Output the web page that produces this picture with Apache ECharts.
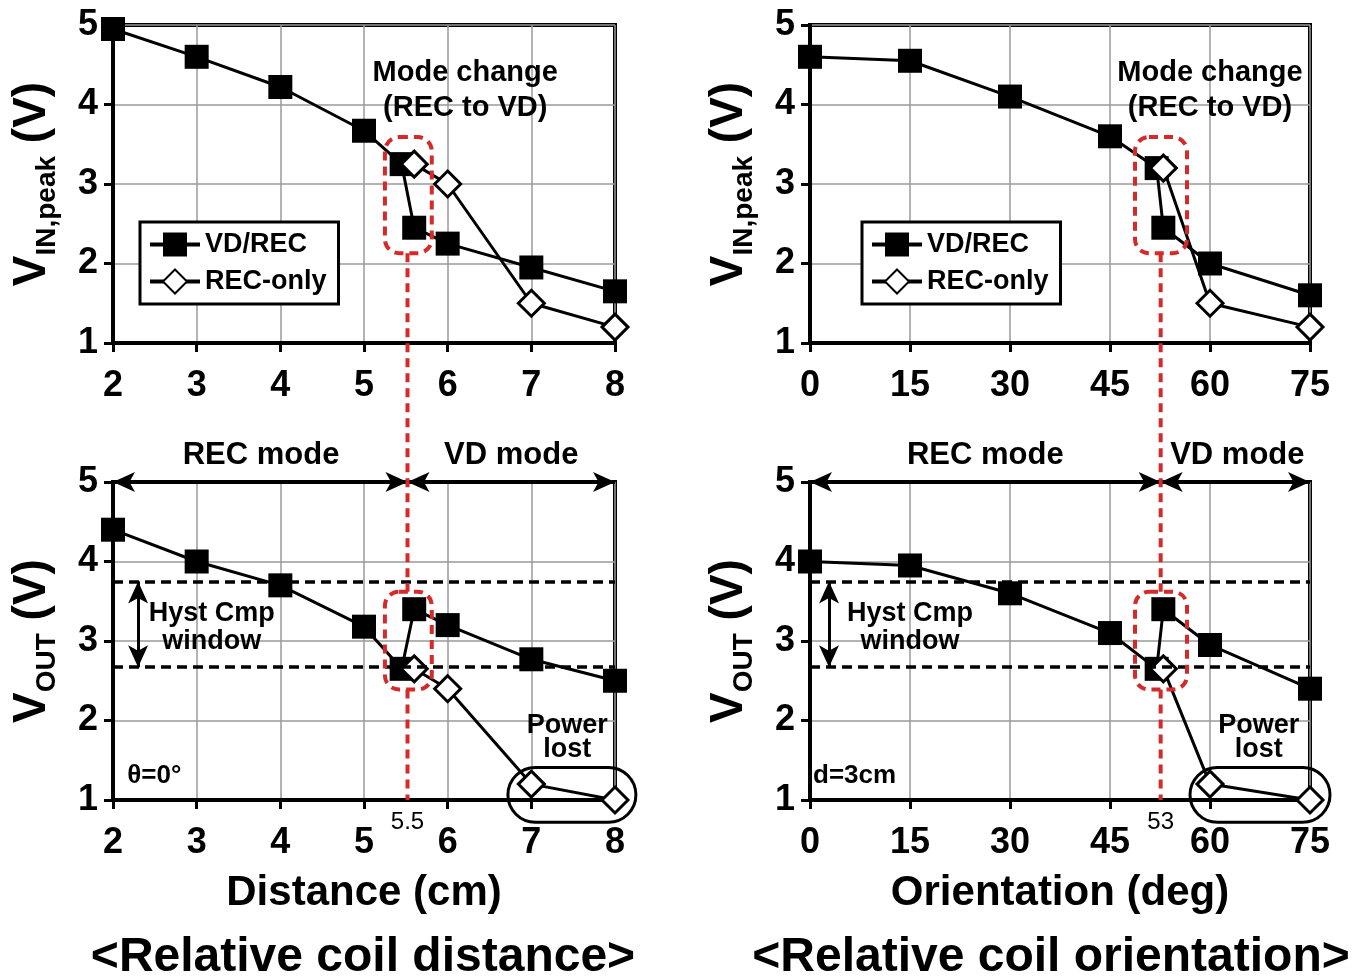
<!DOCTYPE html>
<html>
<head>
<meta charset="utf-8">
<script src="https://cdn.jsdelivr.net/npm/echarts@6/dist/echarts.min.js"></script>
<style>
  html, body { margin: 0; padding: 0; background: #fff; }
  #chart { width: 1358px; height: 979px; }
</style>
</head>
<body>
<div id="chart"></div>
<script>
// distance sweep (theta = 0 deg)
var distVdRecX = [2, 3, 4, 5, 5.45, 5.6, 6, 7, 8];
var distVinVdRec = [4.95, 4.6, 4.22, 3.67, 3.25, 2.45, 2.25, 1.95, 1.65];
var distVoutVdRec = [4.4, 4.0, 3.7, 3.18, 2.65, 3.4, 3.2, 2.77, 2.5];
var distRecOnlyX = [5.6, 6, 7, 8];
var distVinRecOnly = [3.25, 3.0, 1.5, 1.2];
var distVoutRecOnly = [2.65, 2.4, 1.2, 1.0];

// orientation sweep (d = 3cm)
var angVdRecX = [0, 15, 30, 45, 52, 53, 60, 75];
var angVinVdRec = [4.6, 4.55, 4.1, 3.6, 3.2, 2.45, 2.0, 1.6];
var angVoutVdRec = [4.0, 3.95, 3.6, 3.1, 2.65, 3.4, 2.95, 2.4];
var angRecOnlyX = [53, 60, 75];
var angVinRecOnly = [3.2, 1.5, 1.2];
var angVoutRecOnly = [2.65, 1.2, 1.0];

// axis ticks
var distTicks = [2, 3, 4, 5, 6, 7, 8];
var angTicks = [0, 15, 30, 45, 60, 75];
var voltTicks = [1, 2, 3, 4, 5];

// annotations
var hystLevels = [3.75, 2.67];
var modeChangeX = [5.52, 52.6];
var modeChangeLabels = ['5.5', '53'];

var FONT = 'Liberation Sans, Arial, sans-serif';
var RED = '#d42a2a';

function zip(xs, ys) {
  return xs.map(function (x, i) { return [x, ys[i]]; });
}

var chart = echarts.init(document.getElementById('chart'));

var grids = [
  { left: 113, top: 25, width: 502, height: 318 },
  { left: 810, top: 25, width: 500, height: 318 },
  { left: 113, top: 482, width: 502, height: 318 },
  { left: 810, top: 482, width: 500, height: 318 }
].map(function (g) {
  g.show = true;
  g.borderColor = '#000';
  g.borderWidth = 4;
  return g;
});

function xAxisFor(i, ticks, name) {
  return {
    type: 'value', gridIndex: i,
    min: ticks[0], max: ticks[ticks.length - 1], interval: ticks[1] - ticks[0],
    name: name || '', nameLocation: 'middle', nameGap: 72,
    nameTextStyle: { fontSize: 42, fontWeight: 'bold', color: '#000', fontFamily: FONT },
    axisLine: { show: true, lineStyle: { color: '#000', width: 4 } },
    axisTick: { show: true, length: 9, lineStyle: { color: '#000', width: 3 } },
    axisLabel: { fontSize: 36, fontWeight: 'bold', color: '#000', fontFamily: FONT, margin: 25 },
    splitLine: { show: true, lineStyle: { color: '#9a9a9a', width: 1.5 } }
  };
}

function yAxisFor(i, sub) {
  return {
    type: 'value', gridIndex: i,
    min: voltTicks[0], max: voltTicks[voltTicks.length - 1], interval: 1,
    name: '{v|V}{s|' + sub + '}{v| (V)}',
    nameLocation: 'middle', nameRotate: 90, nameGap: 52,
    nameTextStyle: {
      rich: {
        v: { fontSize: 46, fontWeight: 'bold', color: '#000', fontFamily: FONT, verticalAlign: 'bottom', padding: [0, 0, 6, 0] },
        s: { fontSize: 28, fontWeight: 'bold', color: '#000', fontFamily: FONT, verticalAlign: 'bottom' }
      }
    },
    axisLine: { show: true, lineStyle: { color: '#000', width: 4 } },
    axisTick: { show: true, length: 9, lineStyle: { color: '#000', width: 3 } },
    axisLabel: { fontSize: 36, fontWeight: 'bold', color: '#000', fontFamily: FONT, margin: 15 },
    splitLine: { show: true, lineStyle: { color: '#9a9a9a', width: 1.5 } }
  };
}

function vdRec(i, data, extra) {
  var s = {
    name: 'VD/REC', type: 'line', xAxisIndex: i, yAxisIndex: i, data: data,
    symbol: 'rect', symbolSize: 24,
    lineStyle: { color: '#000', width: 3 },
    itemStyle: { color: '#000' },
    z: 3
  };
  if (extra) s.markLine = extra;
  return s;
}

function recOnly(i, data, extra) {
  var s = {
    name: 'REC-only', type: 'line', xAxisIndex: i, yAxisIndex: i, data: data,
    symbol: 'diamond', symbolSize: 26,
    lineStyle: { color: '#000', width: 3 },
    itemStyle: { color: '#fff', borderColor: '#000', borderWidth: 3 },
    z: 4
  };
  if (extra) s.markLine = extra;
  return s;
}

// mode arrows and hysteresis-window arrow
function arrowMarks(xMin, xMode, xMax, xArrow) {
  return {
    silent: true, animation: false,
    label: { show: false },
    symbol: ['arrow', 'arrow'],
    symbolSize: [15, 22],
    lineStyle: { color: '#000', width: 3, type: 'solid' },
    data: [
      [{ coord: [xMin, 5] }, { coord: [xMode, 5] }],
      [{ coord: [xMode, 5] }, { coord: [xMax, 5] }],
      [{ coord: [xArrow, hystLevels[0]] }, { coord: [xArrow, hystLevels[1]] }]
    ]
  };
}

// hysteresis comparator thresholds
var hystMarks = {
  silent: true, animation: false,
  label: { show: false },
  symbol: ['none', 'none'],
  lineStyle: { color: '#000', width: 3.5, type: [10, 6] },
  data: [{ yAxis: hystLevels[0] }, { yAxis: hystLevels[1] }]
};

function legendAt(left) {
  return {
    left: left, top: 222, orient: 'vertical',
    data: ['VD/REC', 'REC-only'],
    borderColor: '#000', borderWidth: 3, backgroundColor: '#fff',
    padding: [9, 12, 9, 8], itemGap: 10, itemWidth: 50, itemHeight: 30,
    lineStyle: { width: 4 },
    textStyle: { fontSize: 27, fontWeight: 'bold', color: '#000', fontFamily: FONT }
  };
}

chart.setOption({
  animation: false,
  backgroundColor: '#fff',
  title: [
    { text: '<Relative coil distance>', left: 363, top: 934, textAlign: 'center', padding: 0,
      textStyle: { fontSize: 48, fontWeight: 'bold', color: '#000', fontFamily: FONT } },
    { text: '<Relative coil orientation>', left: 1051, top: 934, textAlign: 'center', padding: 0,
      textStyle: { fontSize: 48, fontWeight: 'bold', color: '#000', fontFamily: FONT } }
  ],
  legend: [legendAt(140), legendAt(862)],
  grid: grids,
  xAxis: [
    xAxisFor(0, distTicks), xAxisFor(1, angTicks),
    xAxisFor(2, distTicks, 'Distance (cm)'), xAxisFor(3, angTicks, 'Orientation (deg)')
  ],
  yAxis: [yAxisFor(0, 'IN,peak'), yAxisFor(1, 'IN,peak'), yAxisFor(2, 'OUT'), yAxisFor(3, 'OUT')],
  series: [
    vdRec(0, zip(distVdRecX, distVinVdRec)),
    recOnly(0, zip(distRecOnlyX, distVinRecOnly)),
    vdRec(1, zip(angVdRecX, angVinVdRec)),
    recOnly(1, zip(angRecOnlyX, angVinRecOnly)),
    vdRec(2, zip(distVdRecX, distVoutVdRec), arrowMarks(2, modeChangeX[0], 8, 2.3)),
    recOnly(2, zip(distRecOnlyX, distVoutRecOnly), hystMarks),
    vdRec(3, zip(angVdRecX, angVoutVdRec), arrowMarks(0, modeChangeX[1], 75, 2.85)),
    recOnly(3, zip(angRecOnlyX, angVoutRecOnly), hystMarks)
  ]
});

// overlay annotations placed through the axes
function px(g, p) { return chart.convertToPixel({ gridIndex: g }, p); }

function dashRect(g, a, b, color, r, dash, w) {
  var p1 = px(g, a), p2 = px(g, b);
  var h = p2[1] - p1[1];
  return {
    type: 'rect', z: 50, silent: true,
    shape: { x: p1[0], y: p1[1], width: p2[0] - p1[0], height: h, r: r === 'full' ? h / 2 : r },
    style: { fill: 'none', stroke: color, lineWidth: w, lineDash: dash }
  };
}

function label(g, p, text, size, weight, align) {
  var q = px(g, p);
  return {
    type: 'text', z: 60, silent: true, x: q[0], y: q[1],
    style: {
      text: text, fill: '#000', fontSize: size, fontWeight: weight, fontFamily: FONT,
      align: align || 'center', verticalAlign: 'middle',
      textAlign: align || 'center', textVerticalAlign: 'middle'
    }
  };
}

var gfx = [];
var sides = [
  { top: 0, bot: 2, xc: modeChangeX[0], w: [5.25, 5.81], mode: 6.21, rec: 3.77, vd: 6.76,
    hyst: 3.18, pl: 7.43, box: [6.72, 8.25], note: [2.17, 'θ=0°'] },
  { top: 1, bot: 3, xc: modeChangeX[1], w: [48.75, 56.55], mode: 60, rec: 26.3, vd: 64.1,
    hyst: 15, pl: 67.3, box: [57, 78], note: [0.45, 'd=3cm'] }
];
sides.forEach(function (s, k) {
  // mode change callouts
  gfx.push(dashRect(s.top, [s.w[0], 3.59], [s.w[1], 2.13], RED, 14, [9, 6], 4));
  gfx.push(dashRect(s.bot, [s.w[0], 3.62], [s.w[1], 2.39], RED, 14, [9, 6], 4));
  var a = px(s.top, [s.xc, 2.13]), b = px(s.bot, [s.xc, 3.62]);
  var c = px(s.bot, [s.xc, 2.39]), d = px(s.bot, [s.xc, 1]);
  [[a, b], [c, d]].forEach(function (seg) {
    gfx.push({ type: 'line', z: 55, silent: true,
      shape: { x1: seg[0][0], y1: seg[0][1], x2: seg[1][0], y2: seg[1][1] },
      style: { stroke: RED, lineWidth: 4, lineDash: [9, 6] } });
  });
  // power lost ring
  gfx.push(dashRect(s.bot, [s.box[0], 1.41], [s.box[1], 0.72], '#000', 'full', null, 3));
  // texts
  gfx.push(label(s.top, [s.mode, 4.4], 'Mode change', 29, 'bold'));
  gfx.push(label(s.top, [s.mode, 3.96], '(REC to VD)', 29, 'bold'));
  gfx.push(label(s.bot, [s.rec, 5.34], 'REC mode', 31, 'bold'));
  gfx.push(label(s.bot, [s.vd, 5.34], 'VD mode', 31, 'bold'));
  gfx.push(label(s.bot, [s.hyst, 3.34], 'Hyst Cmp', 27, 'bold'));
  gfx.push(label(s.bot, [s.hyst, 2.99], 'window', 27, 'bold'));
  gfx.push(label(s.bot, [s.pl, 1.94], 'Power', 27, 'bold'));
  gfx.push(label(s.bot, [s.pl, 1.63], 'lost', 27, 'bold'));
  gfx.push(label(s.bot, [s.note[0], 1.3], s.note[1], 26, 'bold', 'left'));
  gfx.push(label(s.bot, [s.xc, 0.72], modeChangeLabels[k], 24, 'normal'));
});

chart.setOption({ graphic: gfx });
</script>
</body>
</html>
